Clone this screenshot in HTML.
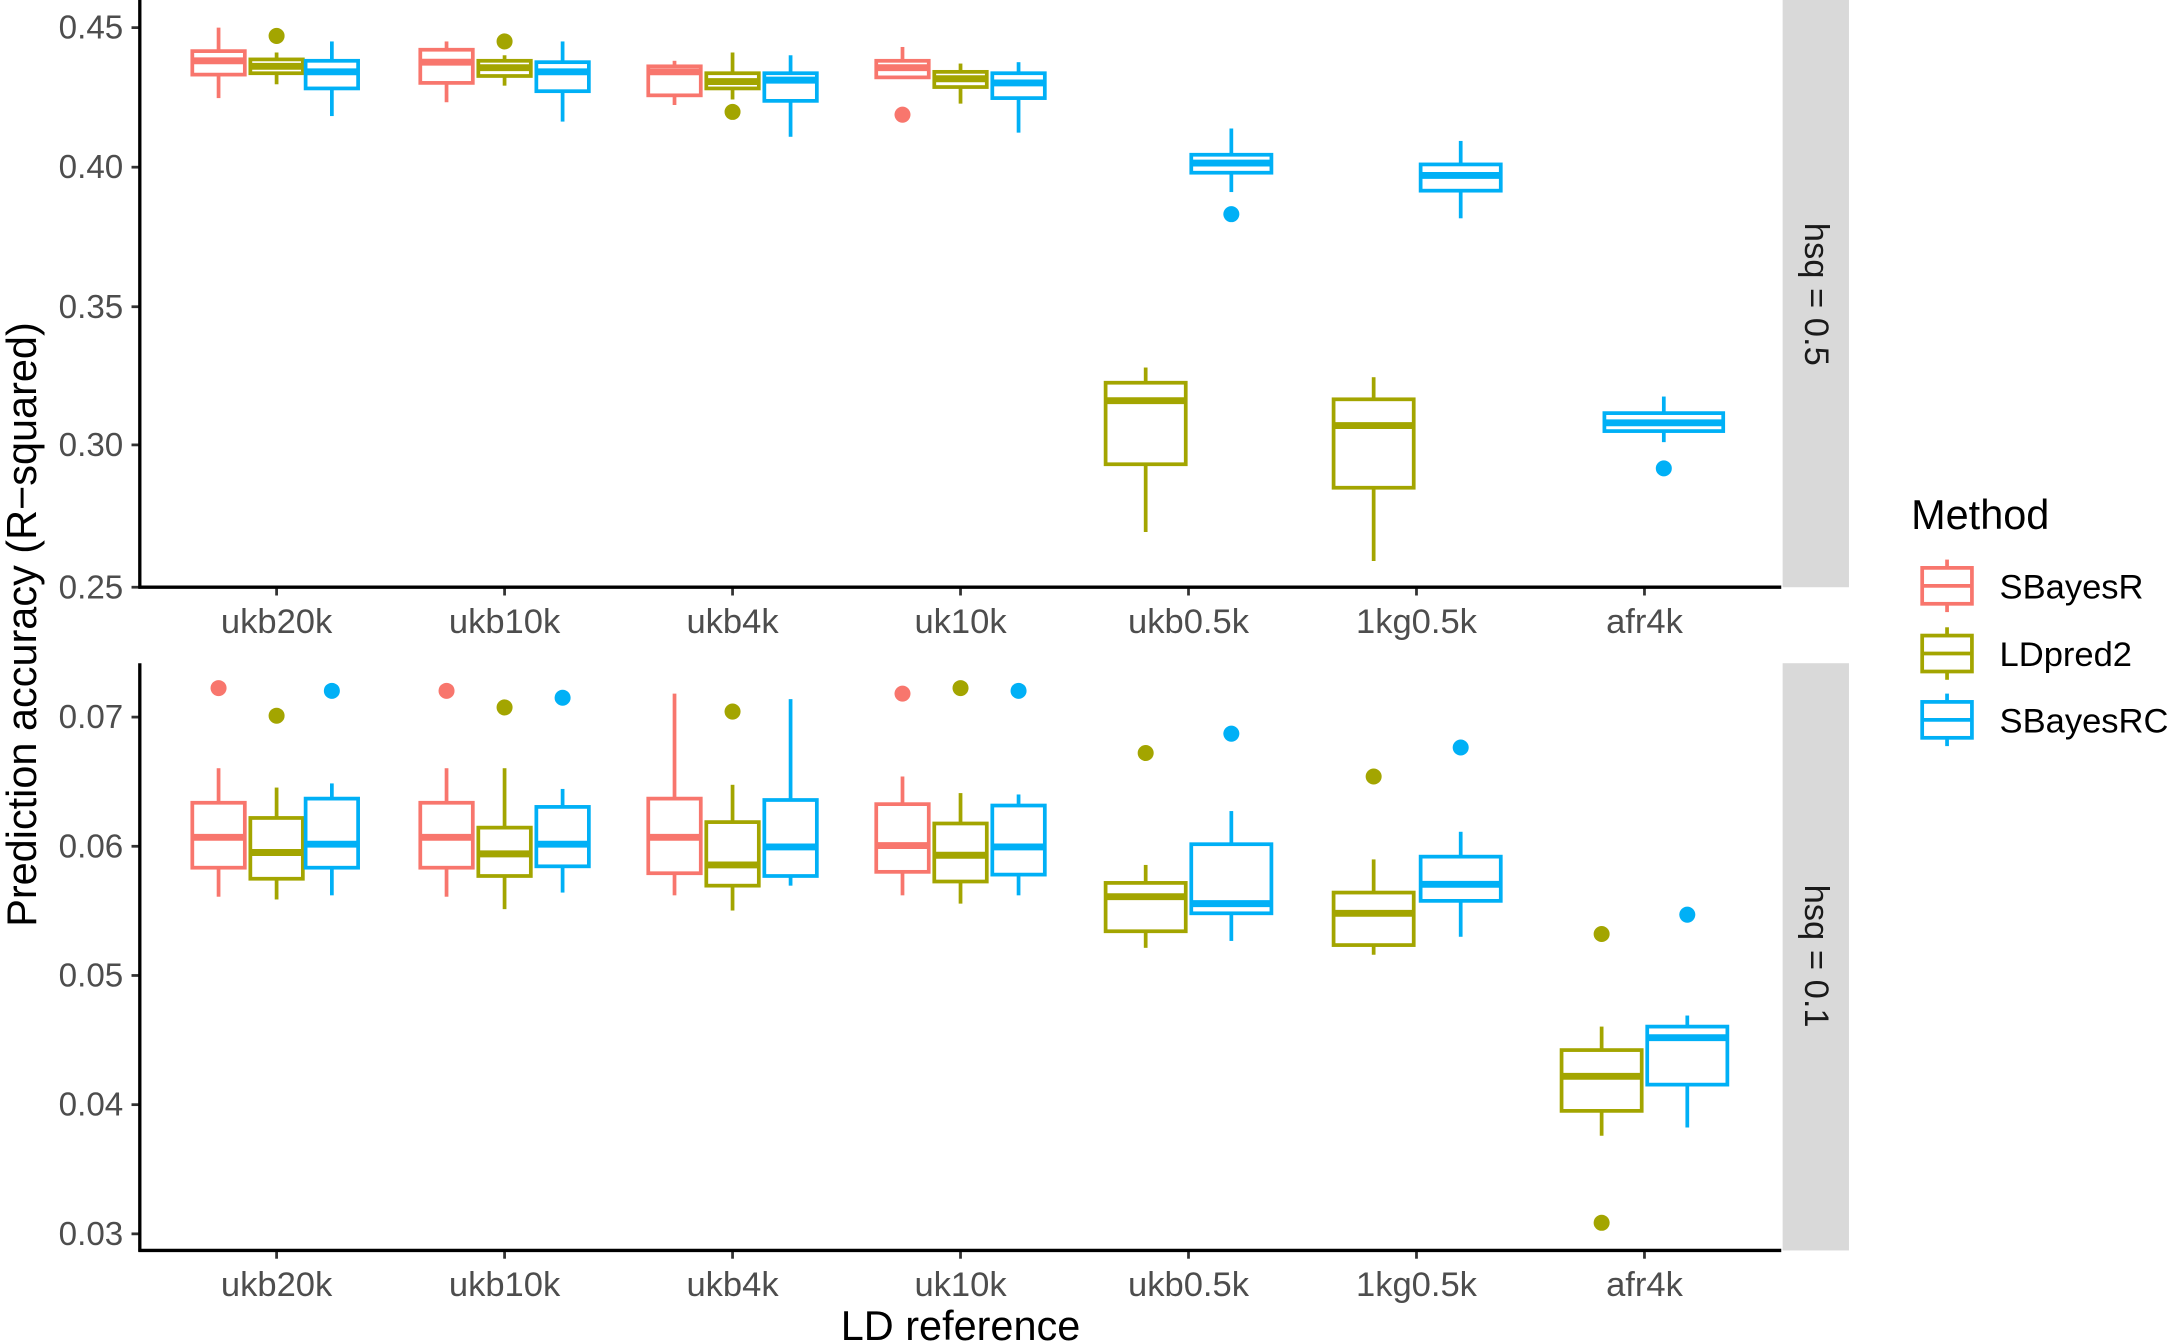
<!DOCTYPE html>
<html><head><meta charset="utf-8"><style>
html,body{margin:0;padding:0;background:#fff;}
svg{display:block;}
text{font-family:"Liberation Sans",sans-serif;}
</style></head><body>
<svg id="s" width="2167" height="1343" viewBox="0 0 1568 972" xmlns="http://www.w3.org/2000/svg">
<rect x="0" y="0" width="1568" height="972" fill="#fff"/>
<g id="g"></g>
<rect x="1290" y="0" width="48" height="425" fill="#d9d9d9"/>
<rect x="1290" y="480" width="48" height="425" fill="#d9d9d9"/>
<text x="1314" y="213" transform="rotate(90 1314 213)" text-anchor="middle" dominant-baseline="central" font-size="25" fill="#1a1a1a">hsq = 0.5</text>
<text x="1314" y="692" transform="rotate(90 1314 692)" text-anchor="middle" dominant-baseline="central" font-size="25" fill="#1a1a1a">hsq = 0.1</text>
<line x1="101" y1="0" x2="101" y2="426" stroke="#000" stroke-width="2.4"/>
<line x1="100" y1="425" x2="1289" y2="425" stroke="#000" stroke-width="2.4"/>
<line x1="101" y1="480" x2="101" y2="906" stroke="#000" stroke-width="2.4"/>
<line x1="100" y1="905" x2="1289" y2="905" stroke="#000" stroke-width="2.4"/>
<text x="-452" y="26" transform="rotate(-90)" text-anchor="middle" font-size="30" fill="#000">Prediction accuracy (R−squared)</text>
<text x="695" y="970" text-anchor="middle" font-size="30" fill="#000">LD reference</text>
<text x="1383" y="383" font-size="30" fill="#000">Method</text>
</svg>
<script>
const g=document.getElementById('g');const NS='http://www.w3.org/2000/svg';
function el(t,a,txt){const e=document.createElementNS(NS,t);for(const k in a)e.setAttribute(k,a[k]);if(txt!==undefined)e.textContent=txt;g.appendChild(e);return e;}
const C={r:'#F8766D',o:'#A3A500',b:'#00B0F6'};
[[0.45,20],[0.40,121],[0.35,222],[0.30,322],[0.25,425]].forEach(([v,y])=>{el('line',{x1:95,y1:y,x2:101,y2:y,stroke:'#333','stroke-width':2});el('text',{x:89,y:y+8,'text-anchor':'end','font-size':24,fill:'#4d4d4d'},v.toFixed(2));});
[[0.07,519],[0.06,612.5],[0.05,706],[0.04,799.5],[0.03,893]].forEach(([v,y])=>{el('line',{x1:95,y1:y,x2:101,y2:y,stroke:'#333','stroke-width':2});el('text',{x:89,y:y+8,'text-anchor':'end','font-size':24,fill:'#4d4d4d'},v.toFixed(2));});
const cats=['ukb20k','ukb10k','ukb4k','uk10k','ukb0.5k','1kg0.5k','afr4k'];
cats.forEach((c,i)=>{const x=200+165*i;[425,905].forEach(y=>{el('line',{x1:x,y1:y,x2:x,y2:y+6,stroke:'#333','stroke-width':2});el('text',{x:x,y:y+33,'text-anchor':'middle','font-size':25,fill:'#4d4d4d'},c);});});
function box(cx,w,col,lo,q1,md,q3,hi,outs){
 el('line',{x1:cx,y1:lo,x2:cx,y2:q1,stroke:col,'stroke-width':2.7});
 el('line',{x1:cx,y1:q3,x2:cx,y2:hi,stroke:col,'stroke-width':2.7});
 el('rect',{x:cx-w/2,y:Math.min(q1,q3),width:w,height:Math.abs(q3-q1),fill:'#fff',stroke:col,'stroke-width':2.7});
 el('line',{x1:cx-w/2,y1:md,x2:cx+w/2,y2:md,stroke:col,'stroke-width':5});
 (outs||[]).forEach(o=>el('circle',{cx:cx,cy:o,r:5.8,fill:col}));
}
const W=38;
box(158,W,C.r,20,37,44,54,71);box(200,W,C.o,38,43,48,53,61,[26]);box(240,W,C.b,30,44,52,64,84);
box(323,W,C.r,30,36,45,60,74);box(365,W,C.o,40,44,49,55,62,[30]);box(407,W,C.b,30,45,52,66,88);
box(488,W,C.r,44,48,52,69,76);box(530,W,C.o,38,53,59,64,72,[81]);box(572,W,C.b,40,53,58,73,99);
box(653,W,C.r,34,44,49,56,56,[83]);box(695,W,C.o,46,52,57,63,75);box(737,W,C.b,45,53,60,71,96);
box(829,58,C.o,266,277,290,336,385);box(891,58,C.b,93,112,118,125,139,[155]);
box(994,58,C.o,273,289,308,353,406);box(1057,58,C.b,102,119,127,138,158);
box(1204,86,C.b,287,299,306,312,320,[339]);
box(158,W,C.r,556,581,606,628,649,[498]);box(200,W,C.o,570,592,617,636,651,[518]);box(240,W,C.b,567,578,611,628,648,[500]);
box(323,W,C.r,556,581,606,628,649,[500]);box(365,W,C.o,556,599,618,634,658,[512]);box(407,W,C.b,571,584,611,627,646,[505]);
box(488,W,C.r,502,578,606,632,648);box(530,W,C.o,568,595,626,641,659,[515]);box(572,W,C.b,506,579,613,634,641);
box(653,W,C.r,562,582,612,631,648,[502]);box(695,W,C.o,574,596,619,638,654,[498]);box(737,W,C.b,575,583,613,633,648,[500]);
box(829,58,C.o,626,639,649,674,686,[545]);box(891,58,C.b,587,611,654,661,681,[531]);
box(994,58,C.o,622,646,661,684,691,[562]);box(1057,58,C.b,602,620,640,652,678,[541]);
box(1159,58,C.o,743,760,779,804,822,[676,885]);box(1221,58,C.b,735,743,751,785,816,[662]);
[['SBayesR',C.r,424],['LDpred2',C.o,473],['SBayesRC',C.b,521]].forEach(([n,c,y])=>{
 el('line',{x1:1409,y1:y-19,x2:1409,y2:y+19,stroke:c,'stroke-width':2.7});
 el('rect',{x:1391,y:y-13,width:36,height:26,fill:'#fff',stroke:c,'stroke-width':2.7});
 el('line',{x1:1391,y1:y,x2:1427,y2:y,stroke:c,'stroke-width':2.7});
 el('text',{x:1447,y:y+9,'font-size':25,fill:'#000'},n);
});
</script>
</body></html>
